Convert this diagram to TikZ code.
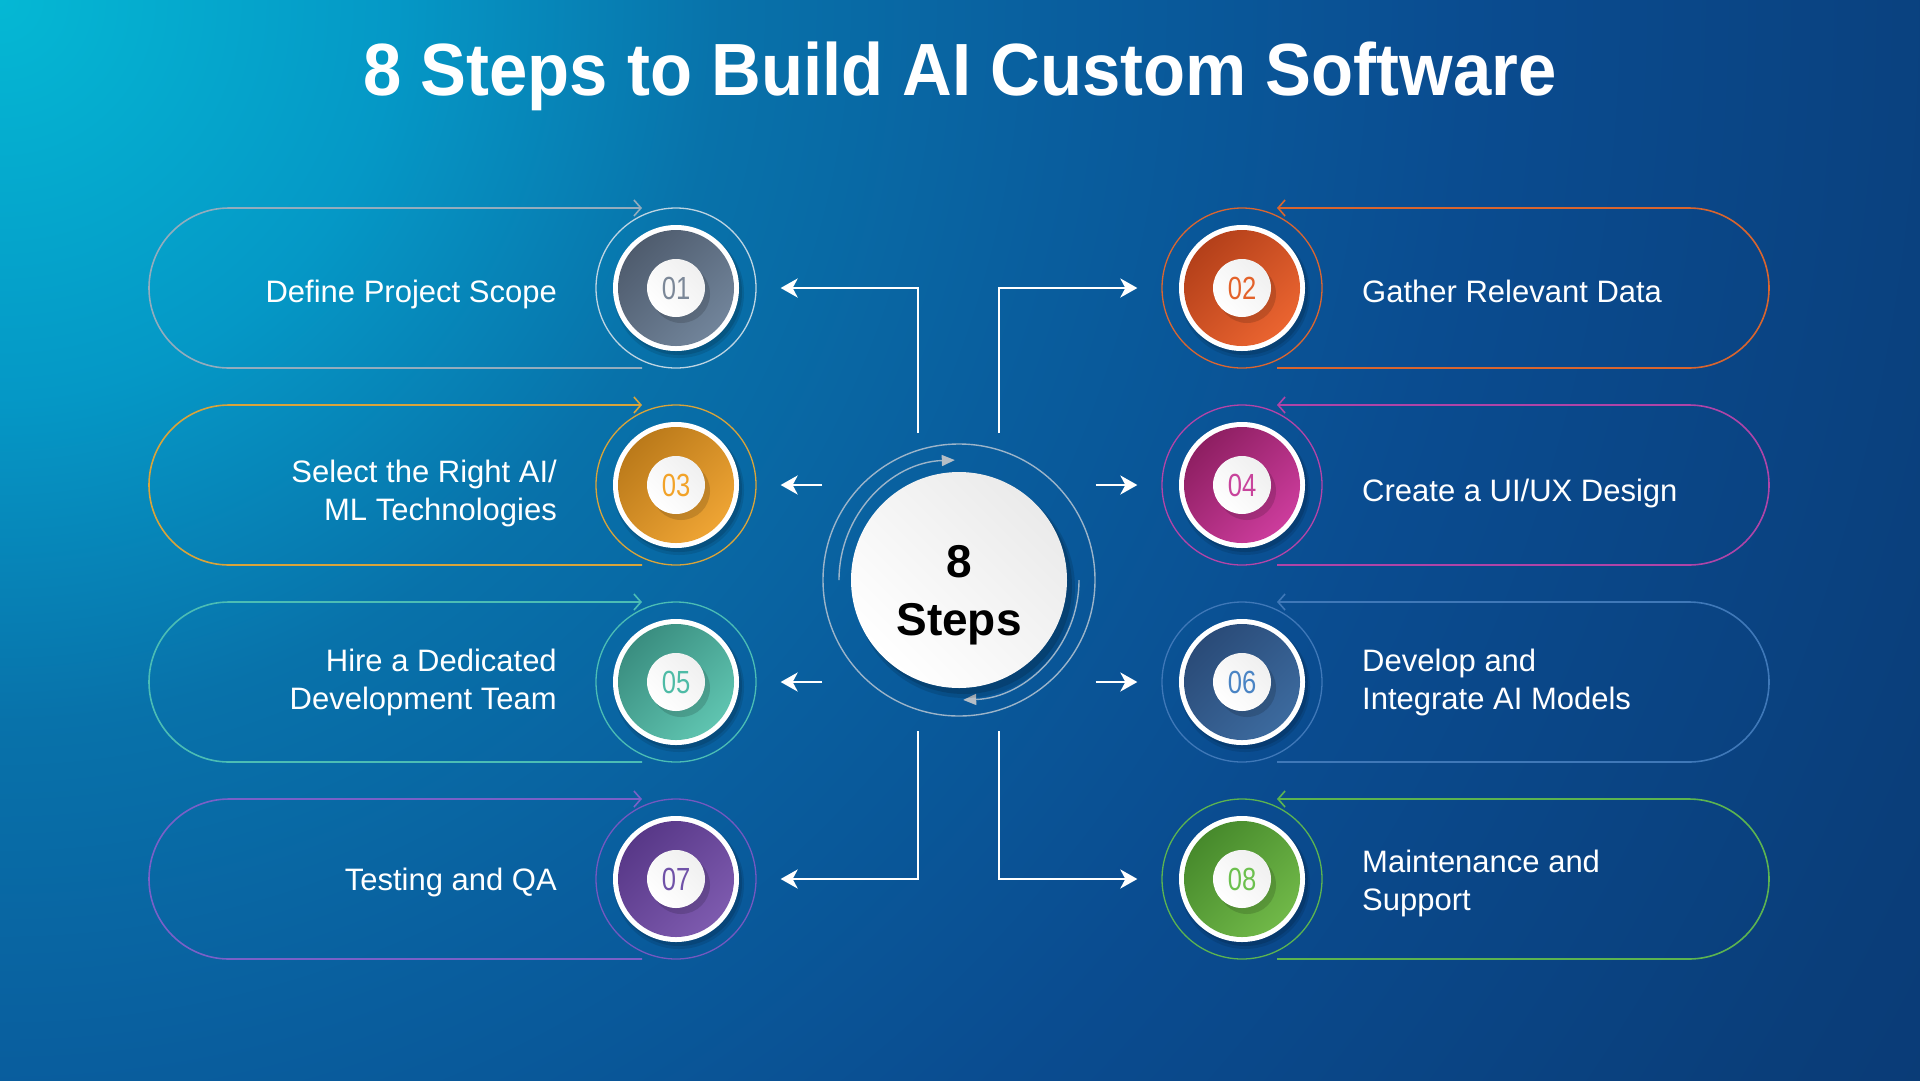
\documentclass[tikz,border=0pt]{standalone}
\usepackage{fontspec}
\setmainfont{Liberation Sans}
\usetikzlibrary{arrows.meta,calc}
\definecolor{bgA}{HTML}{05B8D4}
\definecolor{bgB}{HTML}{0598C6}
\definecolor{bgC}{HTML}{0872AA}
\definecolor{bgD}{HTML}{095E9E}
\definecolor{bgE}{HTML}{0A4C90}
\definecolor{bgF}{HTML}{0A3E7A}
\definecolor{bgG}{HTML}{0A2E68}
\pgfdeclareradialshading{bgglow}{\pgfpoint{0bp}{0bp}}{color(0bp)=(bgA); color(4.5bp)=(bgB); color(8.2bp)=(bgC); color(12.1bp)=(bgD); color(16.7bp)=(bgE); color(23.5bp)=(bgF); color(33.3bp)=(bgG); color(75bp)=(bgG)}
\newcommand{\fsz}[1]{\fontsize{#1}{#1}\selectfont}
\tikzset{
  pill/.style={line width=1.6pt},
  ringc/.style={circle, minimum size=160pt, inner sep=0pt, line width=1.3pt},
  whiteb/.style={circle, minimum size=126pt, inner sep=0pt, fill=white},
  discc/.style={circle, minimum size=116pt, inner sep=0pt},
  numdisc/.style={circle, minimum size=58pt, inner sep=0pt, top color=black!6, bottom color=white, shading angle=-45},
  numtxt/.style={font=\fsz{32}, inner sep=0pt},
  lbl/.style={text=white, font=\fsz{31}, inner sep=0pt},
  conn/.style={draw=white, line width=2.6pt, -{Stealth[length=17pt,width=19pt,inset=5pt]}},
  arcc/.style={draw=arcgray, line width=1.4pt, -{Triangle[length=13pt,width=11pt,fill=tipgray,color=tipgray]}},
}
\definecolor{arcgray}{HTML}{9CB4C9}
\definecolor{tipgray}{HTML}{B6BEC6}
% item colours
\definecolor{dkA}{HTML}{4F5C6E}\definecolor{ltA}{HTML}{71849A}\definecolor{rgA}{HTML}{BDD4E2}\definecolor{plA}{HTML}{93ACBD}\definecolor{nmA}{HTML}{7C8898}
\definecolor{dkB}{HTML}{B4401A}\definecolor{ltB}{HTML}{EA6430}\definecolor{rgB}{HTML}{DB6630}\definecolor{plB}{HTML}{D9652E}\definecolor{nmB}{HTML}{E3622A}
\definecolor{dkC}{HTML}{BB7A1A}\definecolor{ltC}{HTML}{EEA434}\definecolor{rgC}{HTML}{D9A43A}\definecolor{plC}{HTML}{D9A43A}\definecolor{nmC}{HTML}{F2A329}
\definecolor{dkD}{HTML}{8E1F62}\definecolor{ltD}{HTML}{CC3C9C}\definecolor{rgD}{HTML}{B544A8}\definecolor{plD}{HTML}{B044A8}\definecolor{nmD}{HTML}{C8449C}
\definecolor{dkE}{HTML}{3A8E80}\definecolor{ltE}{HTML}{5FC4B0}\definecolor{rgE}{HTML}{4BBDB5}\definecolor{plE}{HTML}{4BBDB5}\definecolor{nmE}{HTML}{4EBBA6}
\definecolor{dkF}{HTML}{2A4B78}\definecolor{ltF}{HTML}{3C6A9E}\definecolor{rgF}{HTML}{3F78B8}\definecolor{plF}{HTML}{3F78B8}\definecolor{nmF}{HTML}{4A84C4}
\definecolor{dkG}{HTML}{583888}\definecolor{ltG}{HTML}{7D5AAE}\definecolor{rgG}{HTML}{7458C0}\definecolor{plG}{HTML}{7A60C8}\definecolor{nmG}{HTML}{7052A8}
\definecolor{dkH}{HTML}{478A2C}\definecolor{ltH}{HTML}{70B848}\definecolor{rgH}{HTML}{5CB450}\definecolor{plH}{HTML}{5CB450}\definecolor{nmH}{HTML}{6CC04E}
% #1 id, #2 x, #3 y, #4 colour letter, #5 number
\newcommand{\stepdisc}[5]{%
  \node[ringc, draw=rg#4] (r#1) at (#2,#3) {};
  \fill[black, opacity=0.10] (#2+3,#3+5) circle[radius=65];
  \fill[black, opacity=0.12] (#2+3,#3+4) circle[radius=63];
  \node[whiteb] (w#1) at (#2,#3) {};
  \node[discc, top color=dk#4, bottom color=lt#4, shading angle=45] (d#1) at (#2,#3) {};
  \fill[black, opacity=0.14] (#2+5,#3+6) circle[radius=29];
  \node[numdisc] (n#1) at (#2,#3) {};
  \node[numtxt, text=nm#4] (m#1) at (#2,#3) {\scalebox{0.8}[1]{#5}};
}
\newcommand{\leftpill}[2]{%
  \draw[pill, draw=pl#2, -{Straight Barb[length=7pt,width=16pt,line width=1.6pt]}] (642,#1+80) -- (229,#1+80) arc[start angle=90, end angle=270, radius=80] -- (642,#1-80);
}
\newcommand{\rightpill}[2]{%
  \draw[pill, draw=pl#2, -{Straight Barb[length=7pt,width=16pt,line width=1.6pt]}] (1277,#1+80) -- (1689,#1+80) arc[start angle=90, end angle=-90, radius=80] -- (1277,#1-80);
}
\begin{document}
\begin{tikzpicture}[x=1pt, y=-1pt]
\useasboundingbox (0,0) rectangle (1920,1080);
\begin{scope}
  \clip (0,0) rectangle (1920,1080);
  \shade[shading=bgglow] (-2200,-2200) rectangle (2200,2200);
\end{scope}
% title
\node[anchor=base, text=white, font=\fsz{74}\bfseries, inner sep=0pt] (title) at (960,95) {\scalebox{0.93}[1]{8 Steps to Build AI Custom Software}};
% pills
\leftpill{288}{A}
\rightpill{288}{B}
\leftpill{485}{C}
\rightpill{485}{D}
\leftpill{682}{E}
\rightpill{682}{F}
\leftpill{879}{G}
\rightpill{879}{H}
% discs
\stepdisc{1}{676}{288}{A}{01}
\stepdisc{2}{1242}{288}{B}{02}
\stepdisc{3}{676}{485}{C}{03}
\stepdisc{4}{1242}{485}{D}{04}
\stepdisc{5}{676}{682}{E}{05}
\stepdisc{6}{1242}{682}{F}{06}
\stepdisc{7}{676}{879}{G}{07}
\stepdisc{8}{1242}{879}{H}{08}
% labels
\node[lbl, anchor=base east] (t1) at (557,302) {Define Project Scope};
\node[lbl, anchor=base east] (t3a) at (557,482) {Select the Right AI/};
\node[lbl, anchor=base east] (t3b) at (557,520) {ML Technologies};
\node[lbl, anchor=base east] (t5a) at (557,671) {Hire a Dedicated};
\node[lbl, anchor=base east] (t5b) at (557,709) {Development Team};
\node[lbl, anchor=base east] (t7) at (557,890) {Testing and QA};
\node[lbl, anchor=base west] (t2) at (1362,302) {Gather Relevant Data};
\node[lbl, anchor=base west] (t4) at (1362,501) {Create a UI/UX Design};
\node[lbl, anchor=base west] (t6a) at (1362,671) {Develop and};
\node[lbl, anchor=base west] (t6b) at (1362,709) {Integrate AI Models};
\node[lbl, anchor=base west] (t8a) at (1362,872) {Maintenance and};
\node[lbl, anchor=base west] (t8b) at (1362,910) {Support};
% centre
\node[circle, draw=arcgray, line width=1.4pt, minimum size=272pt, inner sep=0pt] (cring) at (959,580) {};
\draw[arcc] (839,580) arc[start angle=180, end angle=268, radius=120];
\draw[arcc] (1079,580) arc[start angle=0, end angle=88, radius=120];
\fill[black, opacity=0.12] (965,588) circle[radius=110];
\fill[black, opacity=0.14] (964,586) circle[radius=108];
\node[circle, minimum size=216pt, inner sep=0pt, top color=black!8, bottom color=white, shading angle=-45] (c) at (959,580) {};
\node[anchor=base, font=\fsz{46}\bfseries, inner sep=0pt] (c8) at (959,577) {8};
\node[anchor=base, font=\fsz{46}\bfseries, inner sep=0pt] (cs) at (959,635) {Steps};
% connectors
\coordinate (k1) at (918,433);
\coordinate (k2) at (999,433);
\coordinate (k7) at (918,731);
\coordinate (k8) at (999,731);
\draw[conn] (k1) |- ([xshift=24pt]r1.east);
\draw[conn] (k2) |- ([xshift=-24pt]r2.west);
\draw[conn] (cring.west |- r3.east) -- ([xshift=24pt]r3.east);
\draw[conn] (cring.east |- r4.west) -- ([xshift=-24pt]r4.west);
\draw[conn] (cring.west |- r5.east) -- ([xshift=24pt]r5.east);
\draw[conn] (cring.east |- r6.west) -- ([xshift=-24pt]r6.west);
\draw[conn] (k7) |- ([xshift=24pt]r7.east);
\draw[conn] (k8) |- ([xshift=-24pt]r8.west);
\end{tikzpicture}
\end{document}
